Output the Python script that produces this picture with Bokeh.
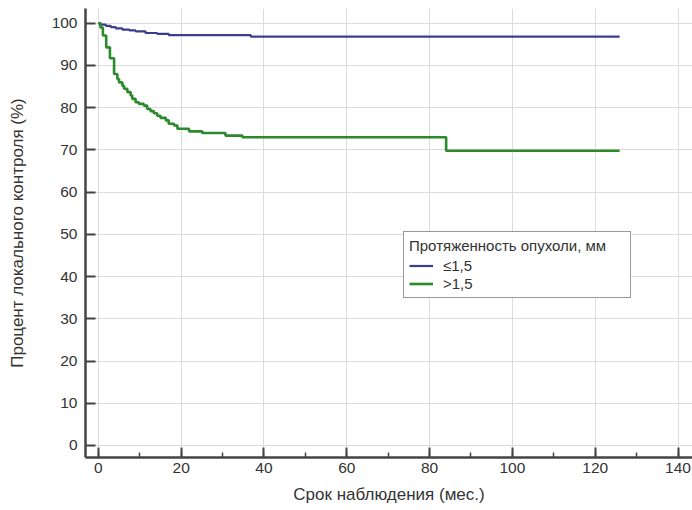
from bokeh.plotting import figure
from bokeh.models import FixedTicker, Legend, LegendItem, Range1d
from bokeh.embed import file_html
from bokeh.resources import INLINE

# Kaplan-Meier local control curves by tumour extent (months, % controlled)
short_t = [0, 0.6, 1.8, 3.0, 4.2, 5.8, 7.5, 9.0, 11.4, 14.2, 17.0, 36.8, 125.9]
short_s = [100, 99.7, 99.4, 99.1, 98.8, 98.5, 98.3, 98.1, 97.7, 97.5, 97.2, 96.85, 96.85]

long_t = [0, 0.5, 1.1, 1.9, 2.8, 3.8, 4.6, 5.0, 5.8, 6.2, 7.0, 7.8, 8.2, 9.0, 9.8,
          11.0, 11.8, 12.6, 13.4, 14.2, 15.0, 16.3, 17.0, 18.3, 19.1, 21.9, 25.1,
          30.7, 34.8, 84.0, 125.9]
long_s = [100, 99.0, 97.1, 94.3, 91.7, 88.0, 86.8, 86.0, 85.2, 84.5, 83.7, 82.9, 82.1,
          81.3, 80.9, 80.5, 79.7, 79.2, 78.7, 78.1, 77.6, 77.0, 76.2, 75.8, 75.0, 74.4,
          74.0, 73.4, 73.0, 69.8, 69.8]

x_ticks = [0, 20, 40, 60, 80, 100, 120, 140]
x_minor = list(range(0, 141, 10))
y_ticks = [0, 10, 20, 30, 40, 50, 60, 70, 80, 90, 100]

legend_title = "Протяженность опухоли, мм"
labels = ["≤1,5", ">1,5"]
colors = ["#3b3e8e", "#2b8a2b"]

FONT = "Liberation Sans"
TXT = "#333333"

p = figure(width=692, height=510, output_backend="svg", toolbar_location=None,
           x_range=Range1d(-3.1, 143.5), y_range=Range1d(-2.85, 103.5),
           min_border_left=85, min_border_right=0, min_border_top=8,
           min_border_bottom=53)
p.outline_line_color = None
p.background_fill_color = "white"
p.border_fill_color = "white"

r1 = p.step(short_t, short_s, mode="after", line_color=colors[0], line_width=2.2)
r2 = p.step(long_t, long_s, mode="after", line_color=colors[1], line_width=2.6)

p.xaxis.ticker = FixedTicker(ticks=x_ticks, minor_ticks=x_minor)
p.yaxis.ticker = FixedTicker(ticks=y_ticks, minor_ticks=[])

for ax in (p.xaxis[0], p.yaxis[0]):
    ax.axis_line_color = "#444444"
    ax.axis_line_width = 2.5
    ax.major_tick_line_color = "#444444"
    ax.major_tick_line_width = 2
    ax.major_tick_in = 10
    ax.major_tick_out = 0
    ax.minor_tick_line_color = "#444444"
    ax.minor_tick_line_width = 1.5
    ax.minor_tick_in = 5
    ax.minor_tick_out = 0
    ax.major_label_text_font = FONT
    ax.major_label_text_font_size = "15.5px"
    ax.major_label_text_color = TXT
    ax.axis_label_text_font = FONT
    ax.axis_label_text_font_size = "17px"
    ax.axis_label_text_font_style = "normal"
    ax.axis_label_text_color = TXT

p.xaxis.axis_label = "Срок наблюдения (мес.)"
p.yaxis.axis_label = "Процент локального контроля (%)"
p.xaxis.major_label_standoff = 5
p.yaxis.major_label_standoff = 8
p.xaxis.axis_label_standoff = 9
p.yaxis.axis_label_standoff = 22

p.xgrid.ticker = FixedTicker(ticks=x_ticks)
p.ygrid.ticker = FixedTicker(ticks=y_ticks)
p.grid.grid_line_color = "#dcdcdc"
p.grid.grid_line_width = 1

legend = Legend(items=[LegendItem(label=labels[0], renderers=[r1]),
                       LegendItem(label=labels[1], renderers=[r2])],
                location=(318, 159), title=legend_title)
legend.margin = 0
legend.padding = 5
legend.spacing = 1
legend.label_height = 13
legend.glyph_height = 13
legend.glyph_width = 24
legend.label_standoff = 10
legend.label_width = 182
legend.title_standoff = 3
legend.title_text_font = FONT
legend.title_text_font_size = "15px"
legend.title_text_font_style = "normal"
legend.title_text_color = TXT
legend.label_text_font = FONT
legend.label_text_font_size = "15px"
legend.label_text_color = TXT
legend.border_line_color = "#333333"
legend.border_line_width = 1
legend.background_fill_color = "white"
legend.background_fill_alpha = 1
p.add_layout(legend, "center")

open("out.html", "w").write(file_html(p, INLINE))
